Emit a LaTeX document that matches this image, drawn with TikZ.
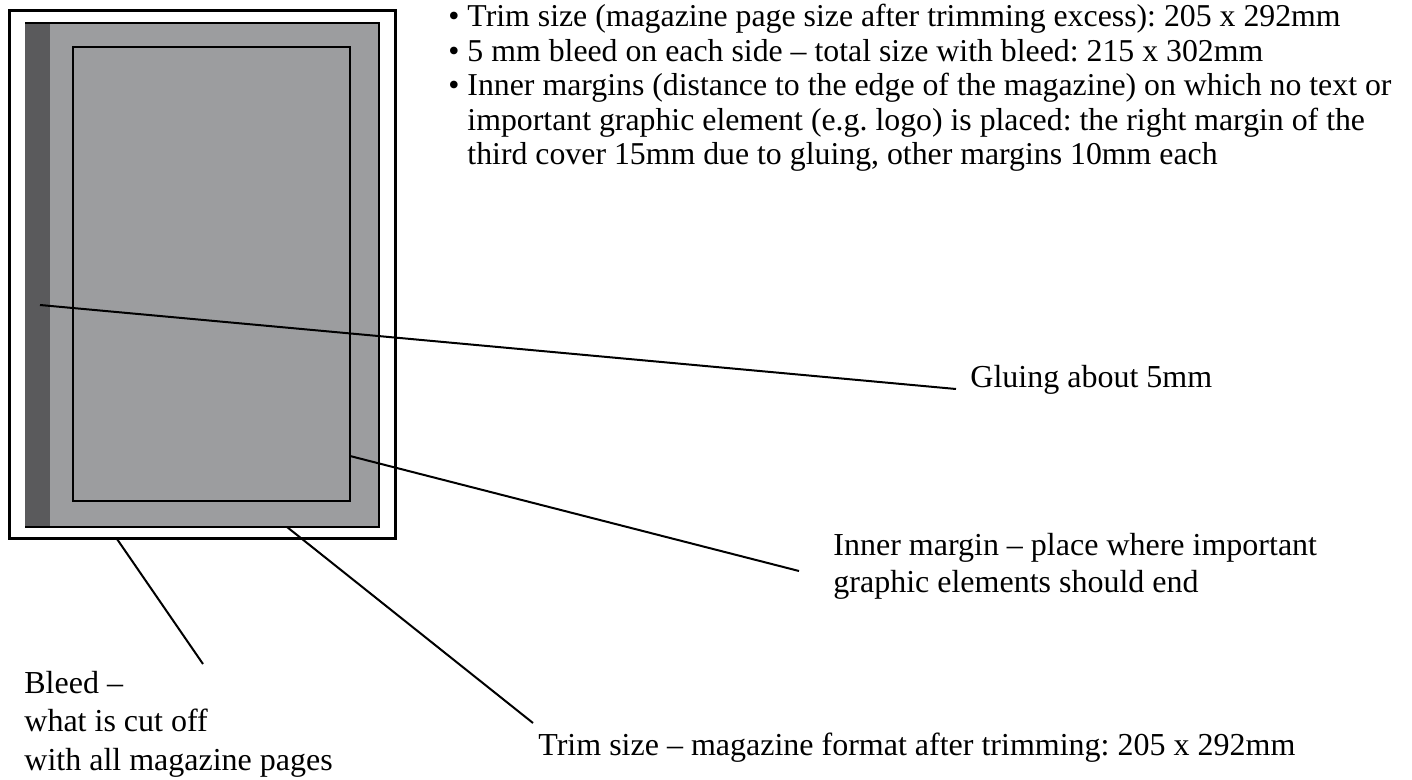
\documentclass[tikz,border=0pt]{standalone}
\usepackage{fontspec}
\setmainfont{Liberation Serif}
\frenchspacing
\definecolor{pagegray}{RGB}{156,157,159}
\definecolor{gluegray}{RGB}{90,90,92}
\tikzset{
  lbl/.style={anchor=base west, inner sep=0pt, align=left},
  pointer/.style={line width=1pt}
}

\begin{document}
\begin{tikzpicture}[x=0.5pt, y=-0.5pt]
    \useasboundingbox (0,0) rectangle (1412,780);

    % 裁ち落とし込みのページ
    \draw[line width=1.5pt, fill=white] (9,11) rectangle (395,538);

    % 仕上がりサイズ
    \fill[pagegray] (25,23) rectangle (379,527);
    \fill[gluegray] (25,23) rectangle (50,527);
    \draw[line width=1pt] (25,23) -- (379,23) -- (379,527) -- (25,527);

    % 内側マージン
    \draw[line width=1.1pt] (73,47) rectangle (350,501);

    % 説明文（複数行のノードは最終行のベースラインで配置）
    \node[lbl, font=\fontsize{15.9}{17.25}\selectfont] (spec) at (448,165) {\textbullet\ Trim size (magazine page size after trimming excess): 205 x 292mm\\
      \textbullet\ 5 mm bleed on each side -- total size with bleed: 215 x 302mm\\
      \textbullet\ Inner margins (distance to the edge of the magazine) on which no text or\\
      \phantom{\textbullet\ }important graphic element (e.g. logo) is placed: the right margin of the\\
      \phantom{\textbullet\ }third cover 15mm due to gluing, other margins 10mm each};
    \node[lbl, font=\fontsize{16}{19}\selectfont] (glue) at (970,387) {Gluing about 5mm};
    \node[lbl, font=\fontsize{16}{18.5}\selectfont] (inner) at (833,592) {Inner margin -- place where important\\graphic elements should end};
    \node[lbl, font=\fontsize{16}{19.25}\selectfont] (bleed) at (24,770) {Bleed --\\what is cut off\\with all magazine pages};
    \node[lbl, font=\fontsize{16}{19}\selectfont] (trim) at (538,755) {Trim size -- magazine format after trimming: 205 x 292mm};

    % 引き出し線の端点
    \coordinate (glueA) at (40,305);
    \coordinate (glueB) at (956,389);
    \coordinate (innerA) at (350,456);
    \coordinate (innerB) at (799,571);
    \coordinate (bleedA) at (117,539);
    \coordinate (bleedB) at (203,664);
    \coordinate (trimA) at (287,527);
    \coordinate (trimB) at (533,723);

    % 引き出し線
    \draw[pointer] (glueA) -- (glueB);
    \draw[pointer] (innerA) -- (innerB);
    \draw[pointer] (bleedA) -- (bleedB);
    \draw[pointer] (trimA) -- (trimB);
\end{tikzpicture}
\end{document}
